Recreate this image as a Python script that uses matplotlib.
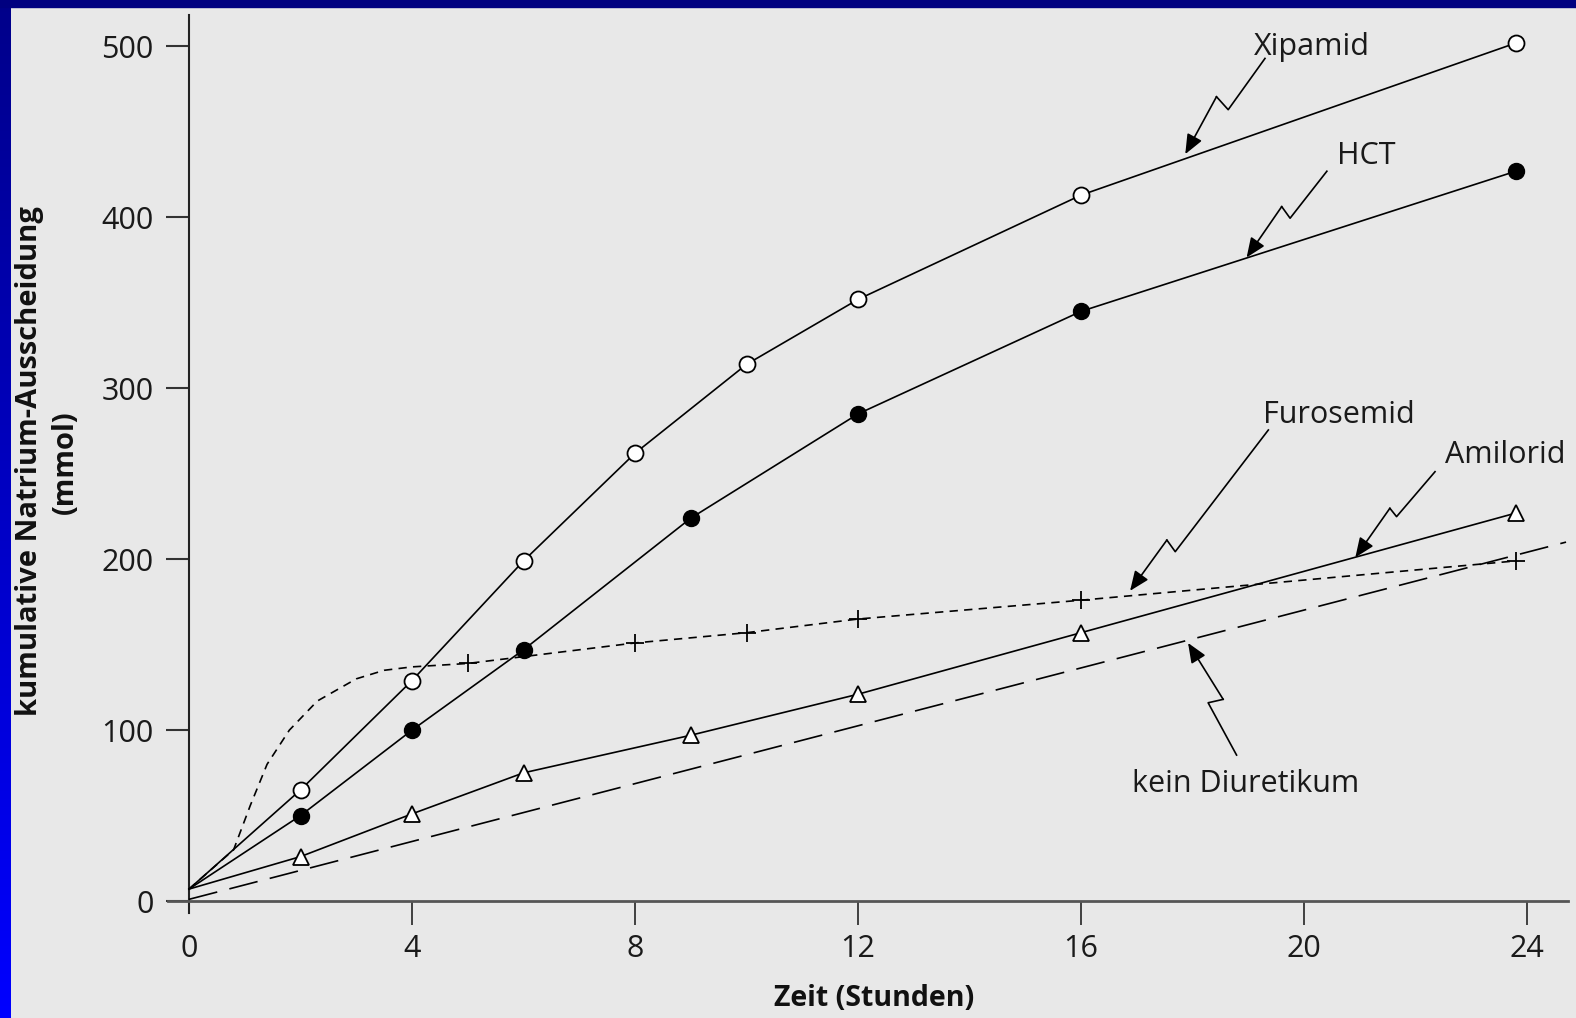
import numpy as np
import matplotlib
matplotlib.use("Agg")
import matplotlib.pyplot as plt

plt.rcParams['font.family'] = ['Open Sans', 'DejaVu Sans']
plt.rcParams['lines.scale_dashes'] = False

# values
hours_xip = [0, 2, 4, 6, 8, 10, 12, 16, 23.8]
xipamid = [7, 65, 129, 199, 262, 314, 352, 413, 502]

hours_hct = [0, 2, 4, 6, 9, 12, 16, 23.8]
hct = [7, 50, 100, 147, 224, 285, 345, 427]

hours_ami = [0, 2, 4, 6, 9, 12, 16, 23.8]
amilorid = [7, 26, 51, 75, 97, 121, 157, 227]

# furosemid curve (markers only on the measured points at 5 h and later)
hours_furo = [0, 0.8, 1.1, 1.4, 1.8, 2.3, 3.0, 3.5, 4.0, 5, 8, 10, 12, 16, 23.8]
furosemid = [7, 30, 56, 80, 100, 117, 130, 135, 137, 139, 151, 157, 165, 176, 199]
furo_marked = [9, 10, 11, 12, 13, 14]

hours_kein = [0, 24.7]
kein = [1, 210]

x_ticks = [0, 4, 8, 12, 16, 20, 24]
y_ticks = [0, 100, 200, 300, 400, 500]

# label text, text anchor (baseline centre) and zigzag arrow path
labels = ['Xipamid', 'HCT', 'Furosemid', 'Amilorid', 'kein Diuretikum']
label_pos = [(20.15, 495), (21.12, 431), (20.63, 279.5), (23.61, 256), (18.96, 64)]
arrow_paths = [
    [(19.30, 493), (18.64, 463), (18.43, 470.6), (17.87, 437)],
    [(20.41, 427), (19.75, 399.5), (19.60, 406.3), (18.97, 376.5)],
    [(19.36, 275.6), (17.69, 204.4), (17.54, 211.2), (16.88, 181.5)],
    [(22.35, 251.2), (21.66, 224.9), (21.54, 229.8), (20.92, 201)],
    [(18.79, 85.4), (18.28, 116.0), (18.55, 118.0), (17.92, 151)],
]

W, H = 1576, 1018
fig = plt.figure(figsize=(W / 100, H / 100), dpi=100)
fig.patch.set_facecolor('#e8e8e8')

# blue frame: gradient strip on the left, navy bar on top
strip = fig.add_axes([0, 0, 11 / W, 1])
grad = np.linspace(0, 1, 256).reshape(-1, 1)
cmap = matplotlib.colors.LinearSegmentedColormap.from_list('b', ['#00008a', '#0000ff'])
strip.imshow(grad, aspect='auto', cmap=cmap, extent=[0, 1, 0, 1], origin='upper')
strip.axis('off')
fig.patches.append(plt.Rectangle((0, 1 - 7 / H), 1, 7 / H, transform=fig.transFigure,
                                 color='#000080', zorder=5))

ax = fig.add_axes([168 / W, (H - 913) / H, 1400 / W, 898 / H])
ax.set_facecolor('#e8e8e8')
ax.set_xlim(-0.377, 24.735)
ax.set_ylim(-7.0, 518.4)

skip0 = slice(1, None)
ax.plot(hours_xip, xipamid, color='black', lw=1.2, marker='o', ms=11.5,
        mfc='white', mec='black', mew=1.3, markevery=skip0, zorder=4)
ax.plot(hours_hct, hct, color='black', lw=1.2, marker='o', ms=11.5,
        mfc='black', mec='black', markevery=skip0, zorder=4)
ax.plot(hours_ami, amilorid, color='black', lw=1.2, marker='^', ms=11,
        mfc='white', mec='black', mew=1.3, markevery=skip0, zorder=4)
ax.plot(hours_furo, furosemid, color='black', lw=1.2, dashes=(6, 4.5),
        marker='+', ms=13, mew=1.3, markevery=furo_marked, zorder=3)
ax.plot(hours_kein, kein, color='black', lw=1.2, dashes=(21, 9), zorder=3)

for text, (tx, ty), path in zip(labels, label_pos, arrow_paths):
    ax.text(tx, ty, text, ha='center', va='baseline', fontsize=22, color='#1a1a1a')
    px, py = zip(*path)
    ax.plot(px[:3], py[:3], color='black', lw=1.2, zorder=5)
    ax.annotate('', xy=path[3], xytext=path[2],
                arrowprops=dict(arrowstyle='-|>,head_length=0.6,head_width=0.25',
                                color='black', lw=1.2, shrinkA=0, shrinkB=0,
                                mutation_scale=20), zorder=5)

for side in ['top', 'right']:
    ax.spines[side].set_visible(False)
ax.spines['left'].set_position(('data', 0))
ax.spines['bottom'].set_position(('data', 0))
ax.spines['left'].set_color('#222222')
ax.spines['left'].set_linewidth(1.5)
ax.spines['bottom'].set_color('#555555')
ax.spines['bottom'].set_linewidth(2.0)

ax.set_xticks(x_ticks)
ax.set_yticks(y_ticks)
ax.tick_params(axis='y', direction='out', length=16.5, width=1.5, pad=9,
               labelsize=22, colors='#333333', labelcolor='#1a1a1a')
ax.tick_params(axis='x', direction='out', length=17, width=1.3, pad=7,
               labelsize=22, colors='#333333', labelcolor='#1a1a1a')
ax.xaxis.get_major_ticks()[0].tick1line.set_visible(False)

fig.text(874 / W, 1 - 998 / H, 'Zeit (Stunden)', ha='center', va='center',
         fontsize=20.5, fontweight='bold', color='#111111')
fig.text(30 / W, 1 - 461 / H, 'kumulative Natrium-Ausscheidung', ha='center',
         va='center', rotation=90, fontsize=21, fontweight='bold', color='#111111')
fig.text(65 / W, 1 - 462 / H, '(mmol)', ha='center', va='center', rotation=90,
         fontsize=21, fontweight='bold', color='#111111')

fig.savefig('out.png', dpi=100, facecolor=fig.get_facecolor())
